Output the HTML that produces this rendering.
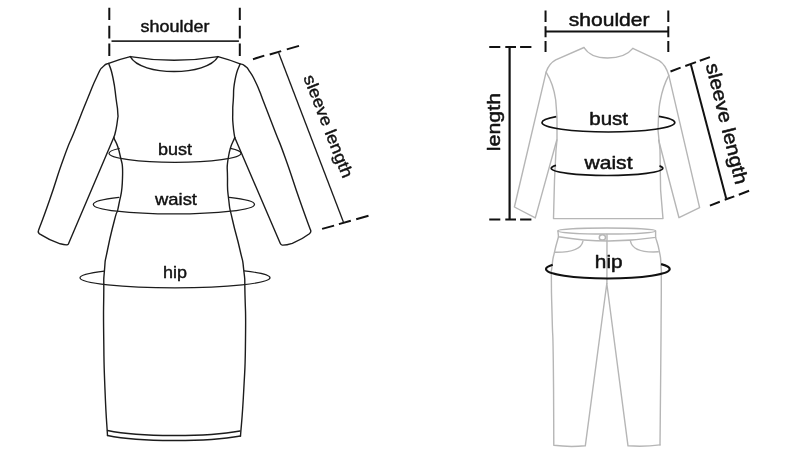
<!DOCTYPE html>
<html>
<head>
<meta charset="utf-8">
<title>Size guide</title>
<style>
html,body{margin:0;padding:0;background:#fff;}
body{width:800px;height:467px;overflow:hidden;font-family:"Liberation Sans",sans-serif;}
svg{display:block;will-change:transform;}
text{font-family:"Liberation Sans",sans-serif;fill:#111;stroke:#111;stroke-width:0.5;stroke-linejoin:round;}
.tl{stroke-width:0.42;}
.d{fill:none;stroke:#1c1c1c;stroke-width:1.4;stroke-linecap:round;stroke-linejoin:round;}
.m{fill:none;stroke:#111;stroke-width:2;}
.ml{fill:none;stroke:#1c1c1c;stroke-width:1.35;}
.g{fill:none;stroke:#b6b6b6;stroke-width:1.4;stroke-linecap:round;stroke-linejoin:round;}
.k{fill:none;stroke:#111;stroke-width:2;}
</style>
</head>
<body>
<svg width="800" height="467" viewBox="0 0 800 467">
<rect width="800" height="467" fill="#fff"/>

<g class="d">
<path d="M130.3,56.6 Q174,64 218,56.6"/>
<path d="M130.3,56.6 C141,76.5 207,76.5 218,56.6"/>
<path d="M130.3,56.6 Q119,59.3 108.7,63.4 C106.83,64.47 106.97,62.33 103.10,66.60 C99.23,70.87 102.47,65.07 97.10,76.20 C91.73,87.33 94.37,82.07 87.00,100.00 C79.63,117.93 82.75,110.67 75.00,130.00 C67.25,149.33 72.22,134.67 63.75,158.00 C55.28,181.33 58.00,175.93 49.60,200.00 C41.20,224.07 42.23,220.13 38.55,230.20 Q37.6,232.5 39.5,233.8 Q50,240.5 60.2,243.8 Q65,245.1 67.2,244.8 Q68.2,244.8 68.6,243.6 L113.75,137.5"/>
<path d="M218,56.6 Q229,59.5 240.06,63.85 C241.74,64.60 241.75,63.35 245.10,66.10 C248.45,68.85 246.73,67.07 250.10,72.10 C253.47,77.13 251.97,74.67 255.20,81.20 C258.43,87.73 257.10,85.10 259.80,91.70 C262.50,98.30 258.40,88.23 263.30,101.00 C268.20,113.77 267.17,111.00 274.50,130.00 C281.83,149.00 276.92,134.67 285.30,158.00 C293.68,181.33 291.28,176.10 299.65,200.00 C308.02,223.90 306.82,219.80 310.40,229.70 Q311.6,231.8 309.4,233.7 Q302.3,239.2 292.3,243.3 Q286,245.3 282.2,245.1 Q280.9,245 280.2,243.3 L234.75,137.5"/>
<path d="M108.70,63.40 C110.13,68.27 110.48,65.80 113.00,78.00 C115.52,90.20 114.67,88.50 116.25,100.00 C117.83,111.50 117.33,105.83 117.75,112.50 C118.17,119.17 118.22,113.75 117.50,120.00 C116.78,126.25 116.85,125.42 115.60,131.25 C114.35,137.08 114.37,135.42 113.75,137.50"/>
<path d="M113.75,137.50 C115.83,143.33 117.08,141.50 120.00,155.00 C122.92,168.50 122.92,161.33 122.50,178.00 C122.08,194.67 121.42,191.00 118.75,205.00 C116.08,219.00 118.25,205.00 114.50,220.00 C110.75,235.00 110.83,233.33 107.50,250.00 C104.17,266.67 105.75,255.00 104.50,270.00 C103.25,285.00 104.00,271.67 103.75,295.00 C103.50,318.33 103.33,308.33 103.75,340.00 C104.17,371.67 103.75,358.17 105.00,390.00 C106.25,421.83 106.67,420.33 107.50,435.50"/>
<path d="M240.06,63.85 C238.37,69.30 237.25,68.15 235.00,80.20 C232.75,92.25 234.05,89.23 233.30,100.00 C232.55,110.77 232.82,104.17 232.75,112.50 C232.68,120.83 232.43,116.67 233.10,125.00 C233.77,133.33 234.20,133.33 234.75,137.50"/>
<path d="M234.75,137.50 C232.70,143.67 231.02,142.50 228.60,156.00 C226.18,169.50 227.45,163.33 227.50,178.00 C227.55,192.67 227.08,186.00 228.75,200.00 C230.42,214.00 228.75,203.33 232.50,220.00 C236.25,236.67 236.25,233.33 240.00,250.00 C243.75,266.67 242.08,255.00 243.75,270.00 C245.42,285.00 244.42,271.67 245.00,295.00 C245.58,318.33 245.92,308.33 245.50,340.00 C245.08,371.67 245.42,358.00 243.75,390.00 C242.08,422.00 241.58,420.67 240.50,436.00"/>
<path d="M107.5,430.5 C140,437 205,437.3 240,431"/>
<path d="M107.5,435.5 C140,442 205,442.3 240.5,436"/>
<path d="M119.20,148.49 A66.00,9.00 0 0 0 109.00,153.30 A66.00,9.00 0 0 0 241.00,153.30 A66.00,9.00 0 0 0 230.50,148.43" style="stroke-width:1.25"/>
<path d="M118.90,197.38 A80.60,9.60 0 0 0 93.30,204.40 A80.60,9.60 0 0 0 254.50,204.40 A80.60,9.60 0 0 0 229.30,197.43" style="stroke-width:1.25"/>
<path d="M104.30,271.07 A95.00,10.00 0 0 0 80.00,277.75 A95.00,10.00 0 0 0 270.00,277.75 A95.00,10.00 0 0 0 244.20,270.90" style="stroke-width:1.25"/>
</g>
<g class="m">
<path d="M109.3,7.7V19.9M109.3,25.7V38.6M109.3,43.4V55.9"/>
<path d="M239.8,7.7V19.9M239.8,25.7V38.6M239.8,43.4V55.9"/>
<path d="M253,59.2L264.3,55.6M269.7,54.5L281.2,51.1M286.8,49.4L299,45.9"/>
<path d="M322.1,228.9L334.1,225.6M338.9,224.1L350.8,220.8M356.2,219.3L368.5,215.7"/>
</g>
<g class="ml">
<path d="M111.5,41.1H238.9" style="stroke-width:1.6;stroke:#2a2a2a"/>
<path d="M278.7,53L343.4,222.1"/>
</g>
<text class="tl" x="140.6" y="32.25" font-size="16.6" textLength="68.8" lengthAdjust="spacingAndGlyphs">shoulder</text>
<text class="tl" x="158" y="155" font-size="16.6" textLength="34" lengthAdjust="spacingAndGlyphs">bust</text>
<text class="tl" x="155" y="204.5" font-size="16.6" textLength="42" lengthAdjust="spacingAndGlyphs">waist</text>
<text class="tl" x="163" y="277.5" font-size="16.6" textLength="24" lengthAdjust="spacingAndGlyphs">hip</text>
<text class="tl" transform="translate(303.3,77.6) rotate(68.7)" font-size="16.6" textLength="109" lengthAdjust="spacingAndGlyphs">sleeve length</text>
<g class="g">
<path d="M584,47.5 C588,54 596,58 607.5,58 C619,58 628,54.5 632.8,48.4"/>
<path d="M584,47.5 L555.7,59.9 Q549,63.5 546.1,72.1 L514.4,207 L535.3,217.9 L556.8,140"/>
<path d="M632.8,48.4 L659.1,60.6 Q665.5,64.5 668.8,75.3 L699.6,207.6 L679,217.7 L658.6,140"/>
<path d="M546.1,72.1 Q553.5,84 555.7,100 L557,117 L557,140 L556,150 L554.5,180 L553.5,218.6 H663 L660.6,190 L660,150 L658,130 L658.5,117 Q659,106 660.4,100 Q663,86 668.8,75.3"/>
<ellipse cx="606.75" cy="231" rx="48.85" ry="3"/>
<path d="M557.9,231 L558.5,236.8 Q606.8,245 655.6,237.4 L655.6,231"/>
<ellipse cx="602.4" cy="237.4" rx="3.1" ry="2.6" style="stroke-width:1.5"/>
<path d="M607,234.5 L606.9,283.5"/>
<path d="M582.9,241.3 C581,250 570,252.5 554.6,252.2"/>
<path d="M630.5,241.3 C632.5,250 643.5,252.6 658.3,251.8"/>
<path d="M558.50,236.80 C557.20,241.73 556.73,241.97 554.60,251.60 C552.47,261.23 553.17,255.57 552.10,265.70 C551.03,275.83 551.37,263.90 551.40,282.00 C551.43,300.10 551.57,293.33 552.20,320.00 C552.83,346.67 552.77,320.23 553.30,362.00 C553.83,403.77 553.63,417.53 553.80,445.30 Q569,447.3 585.3,445.8 L606.8,283.5 L628,445.8 Q644,447 660,444.9"/>
<path d="M655.60,237.40 C656.87,242.13 657.60,242.17 659.40,251.60 C661.20,261.03 660.37,255.57 661.00,265.70 C661.63,275.83 661.27,263.90 661.30,282.00 C661.33,300.10 661.27,293.33 661.10,320.00 C660.93,346.67 661.17,320.37 660.80,362.00 C660.43,403.63 660.27,417.27 660.00,444.90"/>
</g>
<g class="k">
<path d="M545.55,10.5V21.9M545.55,26.3V37.3M545.55,41.1V52.1"/>
<path d="M668.3,10.5V21.9M668.3,26.3V37.3M668.3,41.1V52.1"/>
<path d="M545.55,31.5H668.3"/>
<path d="M489.25,46.9H500.3M505.3,46.9H516M520.1,46.9H531.4"/>
<path d="M509.6,46.9V219.5" style="stroke-width:2.2"/>
<path d="M489.25,219.5H500.3M505.3,219.5H516M520.1,219.5H531.4"/>
<path d="M556.25,116.62 A66.40,9.50 0 0 0 542.00,122.50 A66.40,9.50 0 0 0 674.80,122.50 A66.40,9.50 0 0 0 659.00,116.35" style="stroke-width:1.7"/>
<path d="M556.00,165.38 A55.80,7.20 0 0 0 551.20,168.30 A55.80,7.20 0 0 0 662.80,168.30 A55.80,7.20 0 0 0 659.50,165.86" style="stroke-width:1.7"/>
<path d="M552.70,264.70 A61.85,9.50 0 0 0 546.00,269.00 A61.85,9.50 0 0 0 669.70,269.00 A61.85,9.50 0 0 0 661.10,264.17" style="stroke-width:2.2"/>
<path d="M670.5,71.5L680.6,67.6M685.3,66L696,62.1M699.8,60.8L709.9,57.1"/>
<path d="M690.85,64.4L726.2,198.6"/>
<path d="M709.9,205.6L719.8,201.8M724.7,199.8L734.3,196.4M738.8,194.7L749.1,190.8"/>
</g>
<text x="568.75" y="26.25" font-size="19" textLength="80.75" lengthAdjust="spacingAndGlyphs">shoulder</text>
<text x="589.25" y="124.5" font-size="19" textLength="38.75" lengthAdjust="spacingAndGlyphs">bust</text>
<text x="584.5" y="168.75" font-size="19" textLength="48" lengthAdjust="spacingAndGlyphs">waist</text>
<text x="594.8" y="268" font-size="19" textLength="27.8" lengthAdjust="spacingAndGlyphs">hip</text>
<text transform="translate(500.4,151.2) rotate(-90)" font-size="18.5" textLength="58.3" lengthAdjust="spacingAndGlyphs">length</text>
<text transform="translate(705.7,64.95) rotate(76)" font-size="19" textLength="124" lengthAdjust="spacingAndGlyphs">sleeve length</text>
</svg>
</body>
</html>
